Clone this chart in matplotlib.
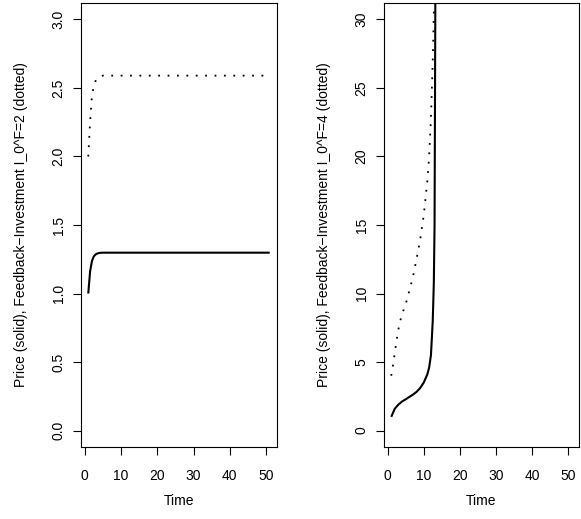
import matplotlib
matplotlib.use("Agg")
import matplotlib.pyplot as plt

plt.rcParams['font.family'] = ['Liberation Sans', 'DejaVu Sans']

# Left panel (I_0^F = 2)
t_left = [1, 1.5, 2, 2.5, 3, 3.5, 4, 5, 6, 51]
price_left = [1.0, 1.16, 1.235, 1.27, 1.285, 1.292, 1.296, 1.298, 1.298, 1.298]
t_left_inv = [1, 1.5, 2, 2.5, 3, 3.5, 4, 5, 6, 49.5]
inv_left = [2.0, 2.25, 2.44, 2.51, 2.55, 2.57, 2.58, 2.59, 2.59, 2.59]

# Right panel (I_0^F = 4)
t_right = [1, 2, 3, 4, 5, 6, 7, 8, 9, 10, 11, 11.5, 12, 12.5, 12.8, 13, 13.2, 13.4]
price_right = [1.0, 1.6, 1.9, 2.12, 2.28, 2.45, 2.62, 2.82, 3.1, 3.5, 4.1, 4.6, 5.5,
               8.0, 10.8, 15.0, 30.0, 60.0]
t_right_inv = [1, 1.5, 2, 2.5, 3, 3.5, 4, 5, 6, 7, 8, 9, 10, 11, 11.5, 12, 12.5, 12.8, 13]
inv_right = [4.0, 4.8, 5.7, 6.6, 7.4, 8.0, 8.5, 9.2, 10.2, 11.2, 12.5, 13.9, 15.7, 18.2,
             20.0, 22.8, 27.0, 30.5, 34.0]

xticks = [0, 10, 20, 30, 40, 50]
yticks_left = [0.0, 0.5, 1.0, 1.5, 2.0, 2.5, 3.0]
yticks_right = [0, 5, 10, 15, 20, 25, 30]

W, H = 581, 519
fig = plt.figure(figsize=(W / 100, H / 100), dpi=100)

def make_ax(x0, x1, y0, y1):
    return fig.add_axes([x0 / W, (H - y1) / H, (x1 - x0) / W, (y1 - y0) / H])

axL = make_ax(81, 277, 3, 447)
axR = make_ax(384, 579, 3, 447)

def style(ax, yticks, ylabels, ylabel, ylim):
    ax.set_xlim(-1, 53)
    ax.set_ylim(*ylim)
    ax.set_xticks(xticks)
    ax.set_xticklabels([str(v) for v in xticks])
    ax.set_yticks(yticks)
    ax.set_yticklabels(ylabels, rotation=90, va='center')
    ax.tick_params(direction='out', length=6, width=0.8, labelsize=10,
                   color='black', labelcolor='black')
    ax.tick_params(axis='x', pad=10)
    ax.tick_params(axis='y', pad=5)
    for s in ax.spines.values():
        s.set_linewidth(0.8)
        s.set_color('black')
    ax.set_xlabel('Time', fontsize=10, labelpad=8)
    ax.set_ylabel(ylabel, fontsize=10, labelpad=17)

axL.plot(t_left, price_left, color='black', lw=1.5, solid_capstyle='butt')
axL.plot(t_left_inv, inv_left, color='black', lw=1.3, linestyle=(0, (1, 4.2)))
style(axL, yticks_left, ['%.1f' % v for v in yticks_left],
      'Price (solid), Feedback\u2212Investment I_0^F=2 (dotted)', (-0.12, 3.12))

axR.plot(t_right, price_right, color='black', lw=1.5, solid_capstyle='butt')
axR.plot(t_right_inv, inv_right, color='black', lw=1.3, linestyle=(0, (1, 4.2)))
style(axR, yticks_right, [str(v) for v in yticks_right],
      'Price (solid), Feedback\u2212Investment I_0^F=4 (dotted)', (-1.2, 31.2))

fig.savefig('out.png', dpi=100)
